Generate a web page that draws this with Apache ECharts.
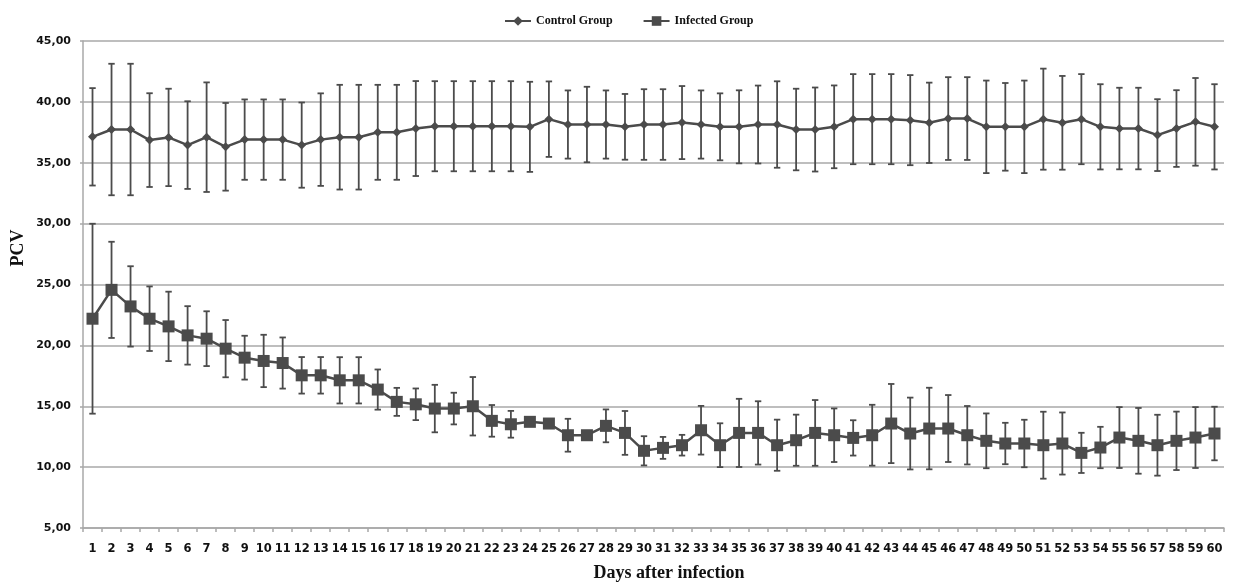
<!DOCTYPE html>
<html>
<head>
<meta charset="utf-8">
<script src="https://cdn.jsdelivr.net/npm/echarts@6/dist/echarts.min.js"></script>
<style>
html,body{margin:0;padding:0;background:#fff;}
#chart{width:1233px;height:582px;}
</style>
</head>
<body>
<div id="chart"></div>
<script>
const days = ['1','2','3','4','5','6','7','8','9','10','11','12','13','14','15','16','17','18','19','20',
  '21','22','23','24','25','26','27','28','29','30','31','32','33','34','35','36','37','38','39','40',
  '41','42','43','44','45','46','47','48','49','50','51','52','53','54','55','56','57','58','59','60'];

const controlMean = [37.13,37.73,37.73,36.86,37.08,36.45,37.10,36.31,36.90,36.90,
  36.90,36.45,36.90,37.10,37.10,37.50,37.50,37.81,38.00,38.00,
  38.00,38.00,38.00,37.95,38.58,38.14,38.14,38.14,37.95,38.14,
  38.14,38.30,38.14,37.95,37.95,38.14,38.14,37.73,37.73,37.95,
  38.58,38.58,38.58,38.50,38.28,38.63,38.63,37.95,37.95,37.95,
  38.58,38.28,38.58,37.95,37.81,37.81,37.27,37.81,38.36,37.95];

const controlSD = [4.0,5.4,5.4,3.85,4.0,3.6,4.5,3.6,3.3,3.3,
  3.3,3.5,3.8,4.3,4.3,3.9,3.9,3.9,3.7,3.7,
  3.7,3.7,3.7,3.7,3.1,2.8,3.1,2.8,2.7,2.9,
  2.9,3.0,2.8,2.75,3.0,3.2,3.55,3.35,3.45,3.4,
  3.7,3.7,3.7,3.7,3.3,3.4,3.4,3.8,3.6,3.8,
  4.15,3.85,3.7,3.5,3.35,3.35,2.95,3.15,3.6,3.5];

const infectedMean = [22.19,24.56,23.20,22.19,21.56,20.82,20.55,19.73,18.99,18.72,
  18.55,17.54,17.54,17.13,17.13,16.37,15.36,15.16,14.81,14.81,
  15.00,13.80,13.52,13.72,13.58,12.62,12.62,13.39,12.81,11.34,
  11.58,11.80,13.03,11.80,12.81,12.81,11.80,12.21,12.81,12.62,
  12.40,12.62,13.58,12.76,13.17,13.17,12.62,12.16,11.94,11.94,
  11.80,11.94,11.17,11.61,12.43,12.16,11.80,12.16,12.43,12.76];

const infectedSD = [7.8,3.95,3.3,2.65,2.85,2.4,2.25,2.35,1.8,2.15,
  2.1,1.5,1.5,1.9,1.9,1.65,1.15,1.3,1.95,1.3,
  2.4,1.3,1.1,0.2,0.35,1.35,0.3,1.35,1.8,1.2,
  0.9,0.85,2.0,1.8,2.8,2.6,2.1,2.1,2.7,2.2,
  1.45,2.5,3.25,2.95,3.35,2.75,2.4,2.25,1.7,1.95,
  2.75,2.55,1.65,1.7,2.5,2.7,2.5,2.4,2.5,2.2];

const seriesNames = ['Control Group', 'Infected Group'];
const yTicks = {min: 5, max: 45, step: 5};
const xTitle = 'Days after infection';
const yTitle = 'PCV';

const dark = '#4b4b4b';
const gridGray = '#a8a8a8';

function errData(mean, sd) {
  return mean.map((m, i) => [i, +(m - sd[i]).toFixed(3), +(m + sd[i]).toFixed(3)]);
}

function errRender(params, api) {
  const x = api.value(0);
  const lo = api.coord([x, api.value(1)]);
  const hi = api.coord([x, api.value(2)]);
  const cap = 3.2;
  const style = {stroke: dark, lineWidth: 1.8, fill: null};
  return {
    type: 'group',
    children: [
      {type: 'line', shape: {x1: lo[0], y1: lo[1], x2: hi[0], y2: hi[1]}, style: style},
      {type: 'line', shape: {x1: hi[0] - cap, y1: hi[1], x2: hi[0] + cap, y2: hi[1]}, style: style},
      {type: 'line', shape: {x1: lo[0] - cap, y1: lo[1], x2: lo[0] + cap, y2: lo[1]}, style: style}
    ]
  };
}

const chart = echarts.init(document.getElementById('chart'));
chart.setOption({
  animation: false,
  backgroundColor: '#fff',
  grid: {left: 83, right: 9, top: 41, bottom: 54, containLabel: false},
  legend: {
    data: seriesNames,
    left: 499, top: 10,
    itemWidth: 26, itemHeight: 12, itemGap: 30,
    textStyle: {fontFamily: 'Liberation Serif', fontWeight: 'bold', fontSize: 12, color: '#111'}
  },
  xAxis: {
    type: 'category',
    data: days,
    boundaryGap: true,
    axisLine: {lineStyle: {color: gridGray, width: 1.5}},
    axisTick: {show: true, length: 4, interval: 0, lineStyle: {color: gridGray, width: 1.5}},
    axisLabel: {interval: 0, margin: 15, fontFamily: 'DejaVu Sans', fontWeight: 'bold', fontSize: 11.5, color: '#111'},
    splitLine: {show: false}
  },
  yAxis: {
    type: 'value',
    min: yTicks.min, max: yTicks.max, interval: yTicks.step,
    axisLine: {show: true, lineStyle: {color: gridGray, width: 1.5}},
    axisTick: {show: true, length: 3, lineStyle: {color: gridGray, width: 1.5}},
    axisLabel: {
      margin: 12,
      fontFamily: 'DejaVu Sans', fontWeight: 'bold', fontSize: 11, color: '#111',
      formatter: v => v.toFixed(2).replace('.', ',')
    },
    splitLine: {lineStyle: {color: gridGray, width: 1.5}}
  },
  graphic: [
    {type: 'text', x: 18, y: 248, rotation: Math.PI / 2,
      style: {text: yTitle, font: 'bold 18px "Liberation Serif"', fill: '#111', align: 'center', verticalAlign: 'middle'}},
    {type: 'text', x: 669, y: 573,
      style: {text: xTitle, font: 'bold 18px "Liberation Serif"', fill: '#111', align: 'center', verticalAlign: 'middle'}}
  ],
  series: [
    {
      name: seriesNames[0], type: 'line', data: controlMean,
      symbol: 'diamond', symbolSize: 9,
      itemStyle: {color: dark}, lineStyle: {color: dark, width: 2.5},
      z: 3
    },
    {
      name: seriesNames[1], type: 'line', data: infectedMean,
      symbol: 'rect', symbolSize: 12,
      itemStyle: {color: dark}, lineStyle: {color: dark, width: 2.5},
      z: 3
    },
    {
      type: 'custom', name: 'ctrlErr', renderItem: errRender,
      data: errData(controlMean, controlSD), encode: {x: 0, y: [1, 2]}, z: 2, silent: true
    },
    {
      type: 'custom', name: 'infErr', renderItem: errRender,
      data: errData(infectedMean, infectedSD), encode: {x: 0, y: [1, 2]}, z: 2, silent: true
    }
  ]
});
</script>
</body>
</html>
